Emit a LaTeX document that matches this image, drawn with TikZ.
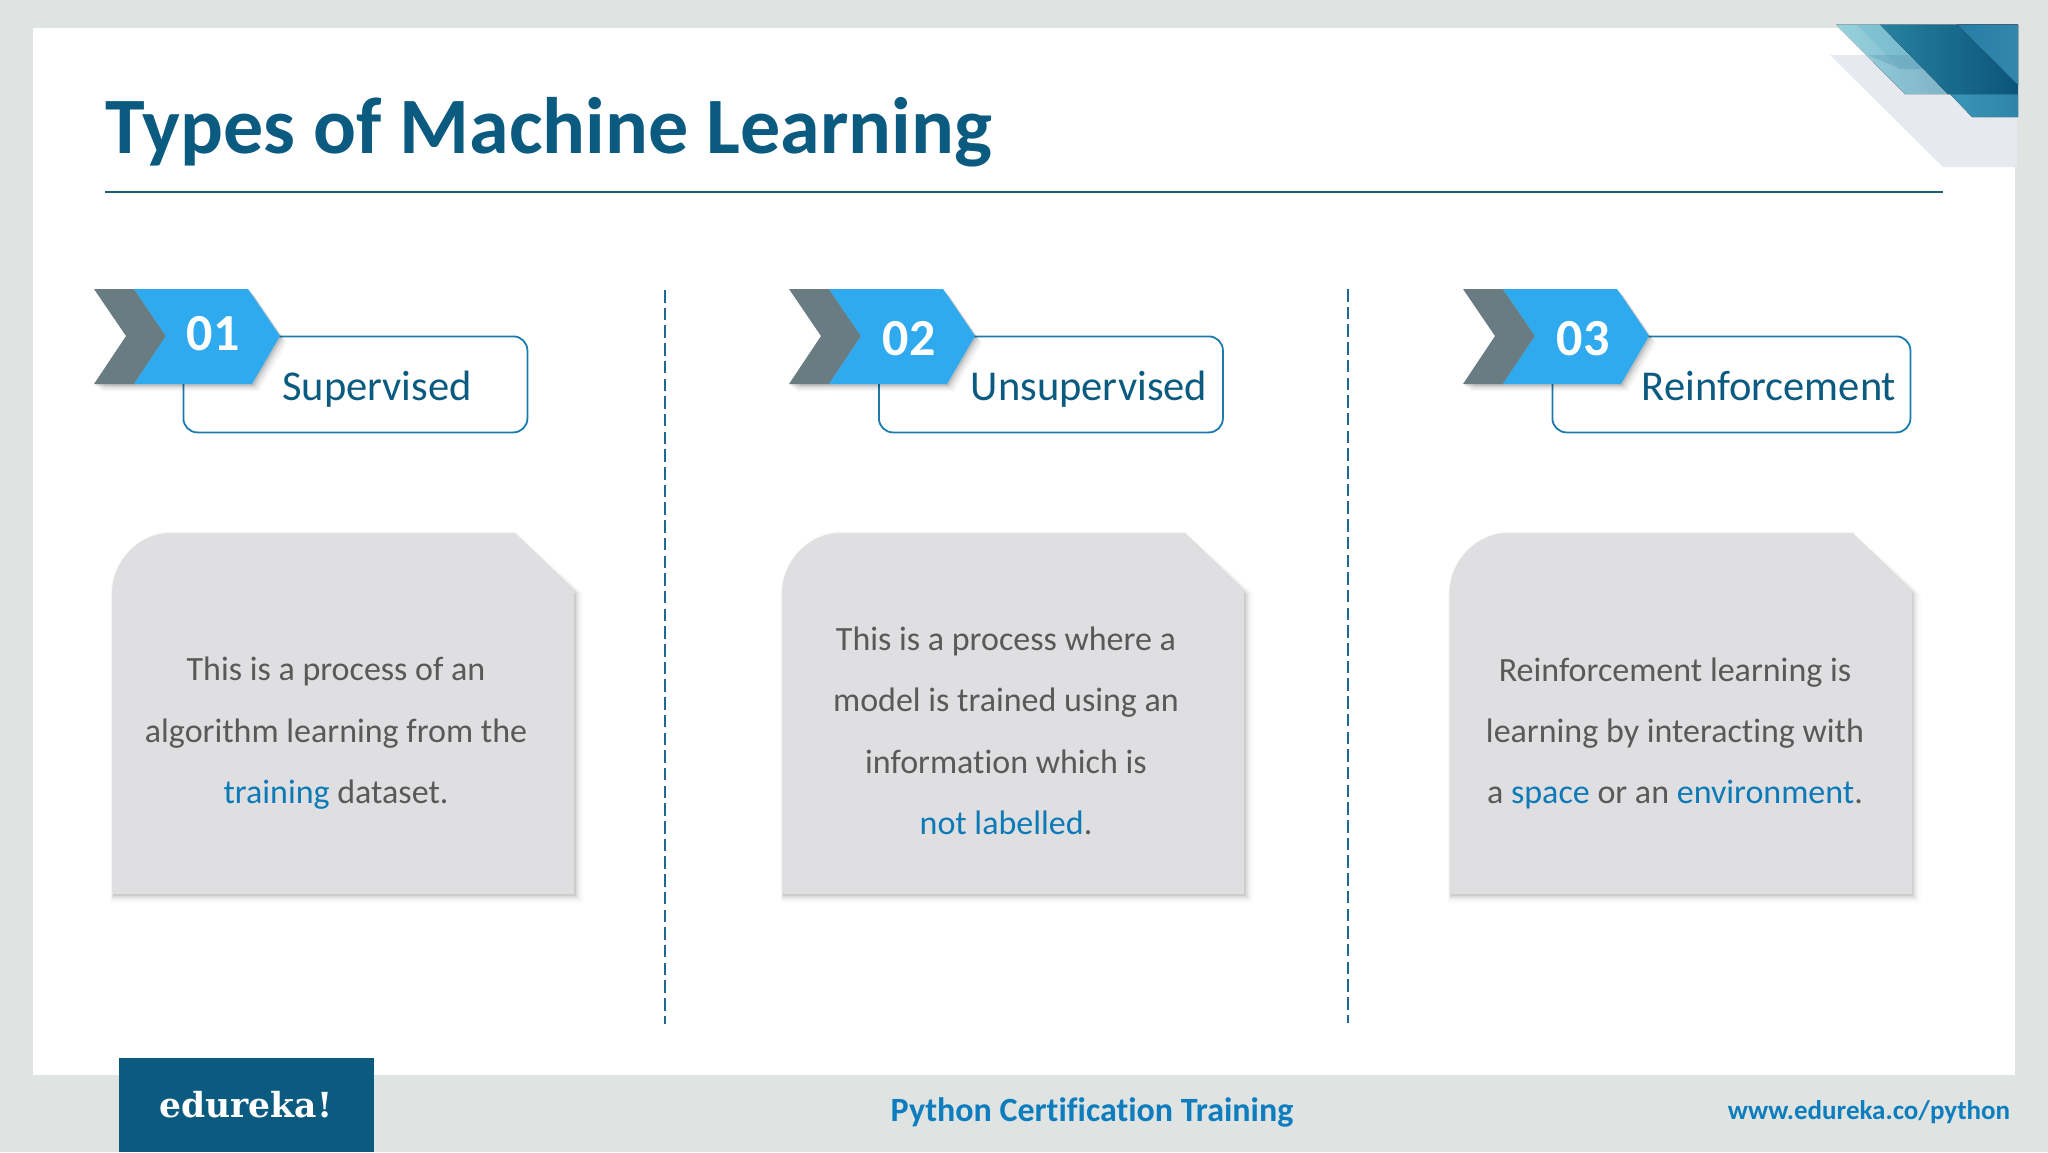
\documentclass[tikz,border=0pt]{standalone}
\usepackage{fontspec}
\setmainfont{Carlito}[Ligatures=NoCommon]
\newfontfamily\logofont{DejaVu Serif}
\usetikzlibrary{calc}
\definecolor{bgc}{HTML}{DFE4E3}
\definecolor{navy}{HTML}{0B5A80}
\definecolor{skyb}{HTML}{2FAAEE}
\definecolor{slate}{HTML}{687C82}
\definecolor{boxline}{HTML}{1B7BAE}
\definecolor{cardc}{HTML}{DFDFE1}
\definecolor{bodyc}{HTML}{595959}
\definecolor{hlc}{HTML}{0D7AB8}
\definecolor{dashc}{HTML}{1A6A94}
\definecolor{ruleblue}{HTML}{1F5F78}
\definecolor{footc}{HTML}{0E7DBD}
\definecolor{cgray}{HTML}{E6E9EF}
\definecolor{tealA}{HTML}{96D3DE}
\definecolor{tealB}{HTML}{7FB2C6}
\definecolor{tealC}{HTML}{6EB9CD}
\definecolor{tealD}{HTML}{5A96B4}
\definecolor{lowL}{HTML}{3A96B6}
\definecolor{lowR}{HTML}{2E84A8}
\definecolor{darkL}{HTML}{26829F}
\definecolor{darkR}{HTML}{0C547A}
\definecolor{upL}{HTML}{287DA5}
\definecolor{upR}{HTML}{3287AC}
\tikzset{
  labelbox/.style={draw=boxline,line width=1.8pt,fill=white,rounded corners=14pt},
  numtext/.style={text=white,font=\bfseries\fontsize{52}{52}\selectfont,anchor=center,inner sep=0pt},
  headtext/.style={text=navy,font=\fontsize{42.5}{42.5}\selectfont,anchor=base,inner sep=0pt},
  bodytext/.style={text=bodyc,font=\fontsize{34}{61.4}\selectfont,align=center,anchor=center,inner sep=0pt},
  divider/.style={draw=dashc,line width=2.2pt,dash pattern=on 12.5pt off 5.2pt},
  footbold/.style={font=\bfseries\fontsize{34}{34}\selectfont,anchor=base,inner sep=0pt},
}
\newcommand{\hl}[1]{\textcolor{hlc}{#1}}
\newcommand{\mlbadge}[1]{%
  \begin{scope}[shift={(#1,0)}]
    \foreach \o/\a in {7/0.04,5/0.06,3/0.08,1.5/0.10}{
      \fill[black,opacity=\a] (94+\o,289+\o) -- (248+\o,289+\o) -- (280+\o,336+\o) -- (252+\o,384+\o) -- (94+\o,384+\o) -- (126+\o,336+\o) -- cycle;
    }
    \fill[slate] (94,289) -- (134,289) -- (166,336) -- (134,384) -- (94,384) -- (126,336) -- cycle;
    \fill[skyb] (134,289) -- (248,289) -- (280,336) -- (252,384) -- (134,384) -- (166,336) -- cycle;
  \end{scope}}
\newcommand{\mlcard}[1]{%
  \begin{scope}[shift={(#1,0)}]
    \foreach \o/\a in {8/0.015,6/0.025,4/0.04,2.5/0.06}{
      \fill[black,opacity=\a] (113-\o*0.3,895+\o) -- (113-\o*0.3,594) .. controls (113-\o*0.3,560) and (140,534-\o*0.3) .. (170,534-\o*0.3) -- (515,534-\o*0.3) -- (575+\o,593) -- (575+\o,895+\o) -- cycle;
    }
    \fill[cardc] (113,895) -- (113,594) .. controls (113,560) and (140,534) .. (170,534) -- (515,534) -- (575,593) -- (575,895) -- cycle;
    \draw[black!20,line width=1.5pt] (575,593) -- (575,895) -- (113,895);
  \end{scope}}
\begin{document}
\begin{tikzpicture}[x=1pt,y=-1pt]
\useasboundingbox (0,0) rectangle (2048,1152);
\fill[bgc] (0,0) rectangle (2048,1152);
\fill[white] (33,28) rectangle (2015,1075);
% corner graphic
\fill[cgray] (1830,55) -- (2017,55) -- (2017,167) -- (1943,167) -- cycle;
\fill[left color=tealA,right color=tealB] (1836,24.5) -- (1880,24.5) -- (1950,94) -- (1905,94) -- cycle;
\fill[tealC,opacity=0.45] (1857,24.5) -- (1880,24.5) -- (1925,69) -- (1900,69) -- cycle;
\fill[tealD,opacity=0.35] (1868,55) -- (1908,55) -- (1925,69) -- (1900,69) -- cycle;
\fill[left color=lowL,right color=lowR] (1950,94) -- (2018,94) -- (2018,117) -- (1972,117) -- cycle;
\fill[left color=darkL,right color=darkR] (1880,24.5) -- (2018,24.5) -- (2018,94) -- (1948,94) -- cycle;
\fill[left color=upL,right color=upR] (1957,24.5) -- (2018,24.5) -- (2018,85) -- cycle;
% title
\node[text=navy,font=\bfseries\fontsize{80}{80}\selectfont,anchor=base west,inner sep=0pt] (title) at (105,153.5) {Types of Machine Learning};
\coordinate (ruleL) at (105,192);
\coordinate (ruleR) at (1943,192);
\draw[ruleblue,line width=1.8pt] (ruleL) -- (ruleR);
% dividers
\coordinate (d1a) at (665,290); \coordinate (d1b) at (665,1024);
\coordinate (d2a) at (1348,289); \coordinate (d2b) at (1348,1023);
\draw[divider] (d1a) -- (d1b);
\draw[divider] (d2a) -- (d2b);
% label boxes
\node[labelbox,minimum width=344pt,minimum height=96pt,inner sep=0pt,anchor=north west] (box1) at (182.5,335.5) {};
\node[labelbox,minimum width=344pt,minimum height=96pt,inner sep=0pt,anchor=north west] (box2) at (878,335.5) {};
\node[labelbox,minimum width=358pt,minimum height=96pt,inner sep=0pt,anchor=north west] (box3) at (1551.5,335.5) {};
\mlbadge{0}
\mlbadge{695}
\mlbadge{1369}
\node[numtext] (n1) at (213,334) {01};
\node[numtext] (n2) at (909,339) {02};
\node[numtext] (n3) at (1583,339) {03};
\node[headtext] (h1) at (377,400) {Supervised};
\node[headtext] (h2) at (1089,400) {Unsupervised};
\node[headtext] (h3) at (1769,400) {Reinforcement};
% cards
\mlcard{0}
\mlcard{670}
\mlcard{1337.5}
\node[bodytext] (t1) at (336,733.5) {This is a process of an\\algorithm learning from the\\\hl{training} dataset.};
\node[bodytext] (t2) at (1006,731) {This is a process where a\\model is trained using an\\information which is\\\hl{not labelled}.};
\node[bodytext] (t3) at (1675,733.5) {Reinforcement learning is\\learning by interacting with\\a \hl{space} or an \hl{environment}.};
% footer
\fill[navy] (119,1058) rectangle (374,1152);
\node[text=white,font=\logofont\bfseries\fontsize{34.5}{34.5}\selectfont,anchor=base,inner sep=0pt] (logo) at (246,1117) {edureka!};
\node[footbold,text=footc] (f1) at (1092,1121) {Python Certification Training};
\node[footbold,text=footc,font=\bfseries\fontsize{27}{27}\selectfont] (f2) at (1869,1119) {www.edureka.co/python};
\end{tikzpicture}
\end{document}
